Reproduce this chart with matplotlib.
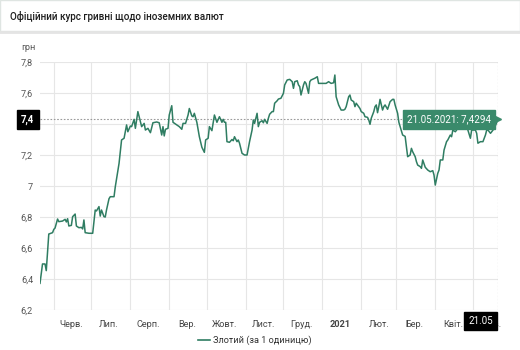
import pandas as pd
import matplotlib.pyplot as plt
import matplotlib.dates as mdates
from matplotlib.patches import Rectangle
from matplotlib.lines import Line2D
from matplotlib.transforms import blended_transform_factory

plt.rcParams['font.family'] = ['Roboto', 'DejaVu Sans']

# курс злотого, дні від 21.05.2020
start = pd.Timestamp('2020-05-21')
days = [0, 2, 4, 5, 7, 10, 11, 12, 14, 15, 18, 20, 21, 22, 23, 25, 26, 28, 29, 31,
        33, 34, 35, 36, 39, 42, 44, 45, 47, 48, 49, 51, 52, 53, 55, 56, 59, 60, 63, 65,
        67, 69, 70, 72, 73, 75, 76, 78, 79, 81, 83, 84, 86, 88, 90, 93, 95, 97, 98, 99,
        100, 102, 103, 105, 106, 109, 111, 113, 114, 116, 118, 119, 121, 122, 123, 125, 127, 129, 131, 132,
        134, 135, 137, 139, 141, 143, 145, 146, 147, 148, 149, 151, 153, 154, 155, 157, 158, 159, 161, 163,
        165, 167, 169, 170, 171, 173, 174, 175, 177, 178, 179, 181, 182, 183, 185, 186, 187, 189, 190, 192,
        194, 195, 197, 199, 201, 202, 203, 205, 206, 207, 208, 210, 211, 212, 214, 215, 216, 219, 221, 222,
        226, 228, 230, 232, 234, 235, 236, 238, 240, 242, 243, 244, 246, 247, 248, 250, 251, 252, 254, 255,
        256, 258, 259, 261, 262, 263, 264, 266, 267, 268, 269, 270, 271, 273, 274, 275, 277, 279, 281, 282,
        283, 285, 286, 287, 289, 291, 292, 293, 295, 296, 297, 299, 300, 301, 303, 304, 305, 307, 309, 311,
        313, 314, 315, 317, 318, 319, 321, 322, 324, 325, 327, 328, 329, 331, 332, 333, 335, 338, 341, 343,
        344, 347, 348, 349, 351, 353, 355, 356, 357, 359, 360, 362, 364, 365]
rate = [6.372, 6.497, 6.497, 6.454, 6.690, 6.699, 6.720, 6.729, 6.787, 6.770, 6.774, 6.785, 6.768, 6.789, 6.742, 6.746, 6.802, 6.819, 6.742, 6.731,
        6.733, 6.723, 6.781, 6.699, 6.695, 6.695, 6.845, 6.839, 6.867, 6.806, 6.845, 6.802, 6.800, 6.845, 6.918, 6.931, 6.931, 6.995, 7.146, 7.297,
        7.308, 7.394, 7.350, 7.387, 7.383, 7.430, 7.372, 7.480, 7.447, 7.383, 7.404, 7.361, 7.372, 7.344, 7.408, 7.413, 7.408, 7.329, 7.383, 7.323,
        7.366, 7.372, 7.458, 7.518, 7.411, 7.394, 7.383, 7.366, 7.404, 7.404, 7.458, 7.500, 7.452, 7.447, 7.469, 7.411, 7.318, 7.250, 7.217, 7.297,
        7.308, 7.383, 7.357, 7.458, 7.411, 7.447, 7.411, 7.430, 7.411, 7.411, 7.286, 7.282, 7.300, 7.292, 7.318, 7.286, 7.297, 7.276, 7.211, 7.200,
        7.200, 7.286, 7.361, 7.426, 7.404, 7.469, 7.383, 7.411, 7.421, 7.408, 7.430, 7.404, 7.437, 7.463, 7.480, 7.480, 7.534, 7.550, 7.561, 7.566,
        7.598, 7.652, 7.684, 7.688, 7.673, 7.630, 7.673, 7.679, 7.652, 7.641, 7.587, 7.652, 7.673, 7.662, 7.598, 7.673, 7.684, 7.695, 7.705, 7.662,
        7.662, 7.662, 7.673, 7.662, 7.666, 7.716, 7.576, 7.523, 7.490, 7.490, 7.495, 7.512, 7.576, 7.587, 7.555, 7.544, 7.512, 7.534, 7.512, 7.500,
        7.480, 7.469, 7.447, 7.443, 7.426, 7.398, 7.437, 7.480, 7.512, 7.523, 7.473, 7.512, 7.559, 7.490, 7.512, 7.523, 7.495, 7.544, 7.559, 7.559,
        7.523, 7.469, 7.411, 7.383, 7.329, 7.320, 7.254, 7.189, 7.200, 7.243, 7.221, 7.189, 7.157, 7.135, 7.125, 7.114, 7.168, 7.121, 7.103, 7.092,
        7.099, 7.071, 7.006, 7.082, 7.103, 7.168, 7.168, 7.232, 7.286, 7.297, 7.329, 7.318, 7.361, 7.350, 7.361, 7.383, 7.400, 7.420, 7.361, 7.308,
        7.361, 7.361, 7.340, 7.276, 7.286, 7.286, 7.329, 7.361, 7.361, 7.340, 7.350, 7.372, 7.411, 7.4294]

month_labels = ['Черв.', 'Лип.', 'Серп.', 'Вер.', 'Жовт.', 'Лист.', 'Груд.', '2021',
                'Лют.', 'Бер.', 'Квіт.', 'Трав.']
y_ticks = [6.2, 6.4, 6.6, 6.8, 7.0, 7.2, 7.4, 7.6, 7.8]

title = 'Офіційний курс гривні щодо іноземних валют'
series_name = 'Злотий (за 1 одиницю)'

green = '#2f7d62'
tip_green = '#3a8a6b'
grid_c = '#e6e6e6'

dates = start + pd.to_timedelta(days, unit='D')
last_date = dates[-1]
last_rate = rate[-1]

fig = plt.figure(figsize=(5.2, 3.5), dpi=100)

# шапка з заголовком
fig.patches.append(Rectangle((0, 1 - 31 / 350), 1, 31 / 350, transform=fig.transFigure,
                             facecolor='white', edgecolor='#dfe5e2', lw=1))
fig.lines.append(Line2D([0, 1], [1 - 32 / 350, 1 - 32 / 350], transform=fig.transFigure,
                        color='#e4e4e4', lw=2))
fig.text(10 / 520, 1 - 16 / 350, title, fontsize=7.1, fontweight='medium', color='#1e1e1e',
         ha='left', va='center')

ax = fig.add_axes([40 / 520, 1 - 310 / 350, 458 / 520, 248 / 350])
ax.plot(dates, rate, color=green, lw=1.1, zorder=3)

# сітка
ax.set_yticks(y_ticks)
ax.set_yticklabels(['' if v == round(last_rate, 1) else f'{v:g}'.replace('.', ',') for v in y_ticks])
ax.yaxis.grid(True, color=grid_c, lw=0.8)
ax.xaxis.set_major_locator(mdates.MonthLocator(bymonthday=1))
ax.xaxis.set_major_formatter(plt.NullFormatter())
ax.xaxis.grid(True, color=grid_c, lw=0.8)

# підписи місяців посередині місяця
mid = pd.date_range('2020-06-01', periods=len(month_labels), freq='MS') + pd.Timedelta(days=14)
ax.set_xticks(mid, minor=True)
ax.set_xticklabels(month_labels, minor=True)
for lab in ax.get_xticklabels(minor=True):
    if lab.get_text() == '2021':
        lab.set_fontweight('bold')
        lab.set_color('#111111')
ax.tick_params(axis='x', which='both', length=0, labelsize=6.6, labelcolor='#444444', pad=7)
ax.tick_params(axis='y', length=0, labelsize=6.6, labelcolor='#555555', pad=5)
for s in ax.spines.values():
    s.set_visible(False)

ax.set_xlim(start, last_date)
ax.set_ylim(6.2, 7.8)

ax.text(-0.04, 1.06, 'грн', transform=ax.transAxes, fontsize=6.6, color='#555555',
        ha='left', va='center')

# перехрестя на останній точці
ax.axhline(last_rate, color='#9a9a9a', lw=0.8, ls=(0, (1.5, 1.5)), zorder=2)
ax.axvline(last_date, color='#9a9a9a', lw=0.8, ls=(0, (1.5, 1.5)), zorder=2)

ty = blended_transform_factory(ax.transAxes, ax.transData)
ax.text(-0.012, last_rate, f'{last_rate:.1f}'.replace('.', ','), transform=ty, ha='right',
        va='center', fontsize=7, fontweight='bold', color='white', zorder=6, clip_on=False,
        bbox=dict(boxstyle='square,pad=0.45', fc='black', ec='black'))
ax.plot([-0.008], [last_rate], marker='>', ms=4, color='black', transform=ty,
        clip_on=False, zorder=6)

tx = blended_transform_factory(ax.transData, ax.transAxes)
ax.text(last_date - pd.Timedelta(days=4), -0.045, last_date.strftime('%d.%m'), transform=tx,
        ha='right', va='center', fontsize=7, color='white', zorder=6, clip_on=False,
        bbox=dict(boxstyle='square,pad=0.4', fc='black', ec='black'))

# підказка
tip = f'{last_date:%d.%m.%Y}: ' + f'{last_rate}'.replace('.', ',')
ax.annotate(tip, xy=(last_date, last_rate), xytext=(-5, 0), textcoords='offset points',
            ha='right', va='center', fontsize=7, color='white', zorder=7,
            bbox=dict(boxstyle='square,pad=0.45', fc=tip_green, ec=tip_green))
ax.plot([last_date], [last_rate], marker='>', ms=4.5, color=tip_green, zorder=7,
        clip_on=False)

fig.legend([Line2D([], [], color=green, lw=1.2)], [series_name], loc='lower center',
           bbox_to_anchor=(0.49, -0.01), frameon=False, fontsize=6.6, handlelength=1.3,
           handletextpad=0.4, labelcolor='#333333')

fig.savefig('out.png', dpi=100, facecolor='white')
